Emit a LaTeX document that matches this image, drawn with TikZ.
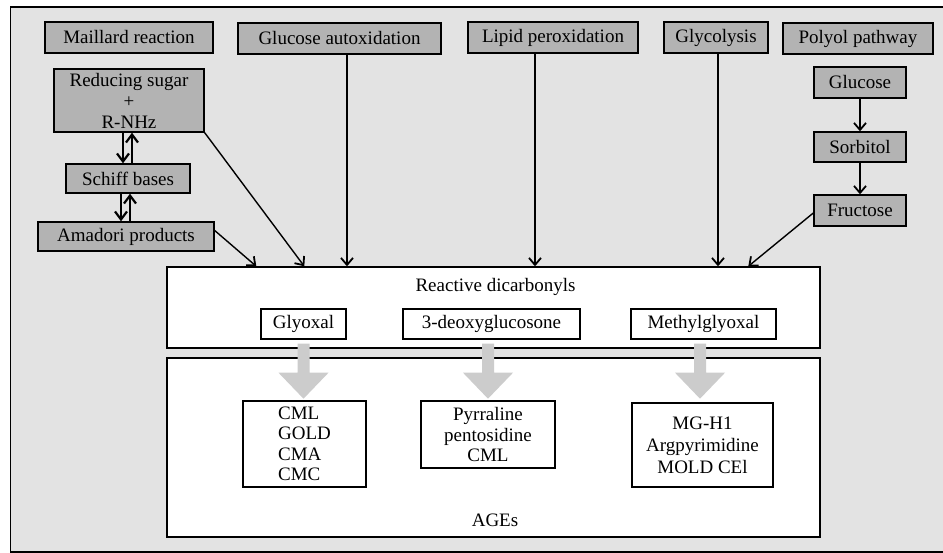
\documentclass[tikz,border=0pt]{standalone}
\usepackage{fontspec}
\setmainfont{Liberation Serif}
\usetikzlibrary{arrows.meta}
\definecolor{bg}{HTML}{E3E3E3}
\definecolor{boxgray}{HTML}{B3B3B3}
\definecolor{arrgray}{HTML}{CCCCCC}
\begin{document}
\begin{tikzpicture}[x=1pt,y=-1pt,
  every node/.style={font=\fontsize{19}{20.5}\selectfont, inner sep=0pt},
  wh/.style 2 args={minimum width=#1pt, minimum height=#2pt},
  graybox/.style={draw, fill=boxgray, line width=1.4pt},
  whitebox/.style={draw, fill=white, line width=1.4pt},
  arr/.style={line width=1.4pt, -{Straight Barb[length=7pt,width=12pt,line width=1.8pt]}},
  barr/.style={line width=1.3pt, -{Straight Barb[length=8pt,width=12pt,line width=2.2pt]}},
  bigarrow/.style={fill=arrgray}]
\useasboundingbox (0,0) rectangle (943,553);
\fill[bg] (10.5,7) rectangle (950,552);
\draw[line width=1.6pt] (950,7) -- (10.5,7) -- (10.5,552) -- (950,552);

% top row
\node[graybox, wh={168}{31}] (maillard) at (129,37.5) {Maillard reaction};
\node[graybox, wh={203}{31}] (gluauto) at (339.5,38.5) {Glucose autoxidation};
\node[graybox, wh={170}{31}] (lipid) at (553,37.5) {Lipid peroxidation};
\node[graybox, wh={104}{31}] (glycol) at (716,37.5) {Glycolysis};
\node[graybox, wh={150}{31}, line width=2.2pt] (polyol) at (858,38.5) {Polyol pathway};

% polyol chain
\node[graybox, wh={92}{31}] (glucose) at (860,82.5) {Glucose};
\node[graybox, wh={92}{30}] (sorbitol) at (860,147) {Sorbitol};
\node[graybox, wh={92}{31}] (fructose) at (860,210.5) {Fructose};

% maillard chain
\node[graybox, wh={150}{63}, align=center, font=\fontsize{19}{21}\selectfont] (reducing) at (129,100.5) {Reducing sugar\\+\\R-NHz};
\node[graybox, wh={124}{29}] (schiff) at (128,178.5) {Schiff bases};
\node[graybox, wh={176}{29}] (amadori) at (126,236.5) {Amadori products};

% big boxes
\node[whitebox, wh={653}{81}] (reactive) at (493.5,307.5) {};
\node[whitebox, wh={653}{179}] (ages) at (493.5,447.5) {};
\node[anchor=base] (rdlabel) at (495.5,292) {Reactive dicarbonyls};
\node[anchor=base] (ageslabel) at (495,526) {AGEs};

\node[whitebox, wh={85}{30}] (glyoxal) at (303.5,324) {Glyoxal};
\node[whitebox, wh={177}{30}] (deoxy) at (491.5,324) {3-deoxyglucosone};
\node[whitebox, wh={145}{30}] (methyl) at (703.5,324) {Methylglyoxal};

\node[whitebox, wh={123}{86}, align=left] (cml) at (304.5,444) {CML\\GOLD\\CMA\\CMC};
\node[whitebox, wh={134}{67}, align=center] (pyrr) at (488,434.5) {Pyrraline\\pentosidine\\CML};
\node[whitebox, wh={141}{84}, align=center] (mgh) at (702.5,445) {MG-H1\\[1.5pt]Argpyrimidine\\[1.5pt]MOLD CEl};

% big gray arrows
\fill[bigarrow] ([xshift=-6pt,yshift=-4pt]glyoxal.south) -- ++(12,0) -- ++(0,29) -- ++(19,0) -- ++(-25,26) -- ++(-25,-26) -- ++(19,0) -- cycle;
\fill[bigarrow] ([xshift=-9.5pt,yshift=-4pt]deoxy.south) -- ++(12,0) -- ++(0,29) -- ++(19,0) -- ++(-25,26) -- ++(-25,-26) -- ++(19,0) -- cycle;
\fill[bigarrow] ([xshift=-9.5pt,yshift=-4pt]methyl.south) -- ++(12,0) -- ++(0,29) -- ++(19,0) -- ++(-25,26) -- ++(-25,-26) -- ++(19,0) -- cycle;

% connectors
\draw[arr] ([yshift=6pt]amadori.east) -- ([xshift=90pt]reactive.north west);
\draw[arr] (reducing.south east) -- ([xshift=138pt]reactive.north west);
\draw[arr] ([xshift=7.5pt]gluauto.south) -- ([xshift=7.5pt]gluauto.south |- reactive.north);
\draw[arr] ([xshift=-18pt]lipid.south) -- ([xshift=-18pt]lipid.south |- reactive.north);
\draw[arr] ([xshift=2pt]glycol.south) -- ([xshift=2pt]glycol.south |- reactive.north);
\draw[arr] ([yshift=-2.5pt]fructose.west) -- ([xshift=582pt]reactive.north west);
\draw[arr] (glucose.south) -- (sorbitol.north);
\draw[arr] (sorbitol.south) -- (fructose.north);

\draw[barr] ([xshift=-5pt]schiff.north |- reducing.south) -- ([xshift=-5pt]schiff.north);
\draw[barr] ([xshift=4pt]schiff.north) -- ([xshift=4pt]schiff.north |- reducing.south);
\draw[barr] ([xshift=-7pt]schiff.south) -- ([xshift=-7pt]schiff.south |- amadori.north);
\draw[barr] ([xshift=2pt]schiff.south |- amadori.north) -- ([xshift=2pt]schiff.south);
\end{tikzpicture}
\end{document}
